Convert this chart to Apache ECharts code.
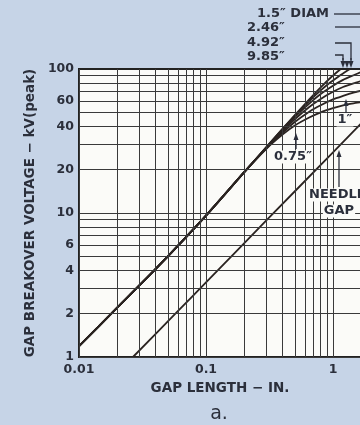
<!DOCTYPE html>
<html>
<head>
<meta charset="utf-8">
<script src="https://cdn.jsdelivr.net/npm/echarts@6/dist/echarts.min.js"></script>
<style>
  html, body { margin: 0; padding: 0; background: #c6d4e7; }
  #chart { width: 360px; height: 425px; }
</style>
</head>
<body>
<div id="chart"></div>
<script>
// Gap breakover voltage (kV peak) against gap length (inches),
// sphere gaps of several diameters plus a needle gap, log-log.

// Common part of all sphere-gap curves (small gaps)
const sharedGap = [0.01, 0.02, 0.04, 0.1, 0.2];
const sharedKV  = [1.19, 2.2, 4.07, 9.6, 19.2];

// Where each sphere diameter bends away from the common line
const gap985 = [0.3, 0.4, 0.5, 0.65, 0.8, 0.97, 1.15];
const kv985  = [28.8, 38.4, 47.8, 61.5, 74.5, 88, 100];
const gap492 = [0.3, 0.4, 0.5, 0.65, 0.8, 0.95, 1.1, 1.23, 1.36];
const kv492  = [28.8, 38.3, 47.2, 59.8, 71, 80.5, 88.5, 94.5, 100];
const gap246 = [0.3, 0.4, 0.5, 0.65, 0.8, 1.0, 1.2, 1.45, 1.7];
const kv246  = [28.6, 37.8, 46.3, 57.5, 67, 76.5, 84, 90.5, 96];
const gap150 = [0.3, 0.4, 0.5, 0.65, 0.8, 1.0, 1.2, 1.45, 1.7];
const kv150  = [28.4, 37, 44.8, 54.5, 62, 69.5, 75, 79.5, 83];
const gap100 = [0.3, 0.4, 0.5, 0.65, 0.8, 1.0, 1.2, 1.45, 1.7];
const kv100  = [28.2, 36, 42.8, 50.5, 56, 61.5, 65, 68.5, 71];
const gap075 = [0.3, 0.4, 0.5, 0.65, 0.8, 1.0, 1.2, 1.45, 1.7];
const kv075  = [28, 35, 40.5, 46, 50, 53.5, 56, 57.8, 59];

// Needle gap
const needleGap = [0.0266, 0.06, 0.1, 0.3, 1, 1.5, 2];
const needleKV  = [1, 2.08, 3.3, 8.91, 26.4, 38.1, 49.4];

// Axis labels
const yTickLabels = [1, 2, 4, 6, 10, 20, 40, 60, 100];
const xTickLabels = [0.01, 0.1, 1];

// Log-paper rulings: 1..9 in every decade
const xDecades = [0.01, 0.1, 1];
const yDecades = [1, 10];
const xRulings = [];
xDecades.forEach(d => { for (let m = 1; m <= 9; m++) xRulings.push(+(m * d).toPrecision(3)); });
const yRulings = [];
yDecades.forEach(d => { for (let m = 1; m <= 9; m++) yRulings.push(+(m * d).toPrecision(3)); });

const INK = '#2b2f3b';
const CURVE = '#2a2320';

function pairs(xs, ys) { return xs.map((x, i) => [x, ys[i]]); }
function sphere(gaps, kvs) { return pairs(sharedGap, sharedKV).concat(pairs(gaps, kvs)); }

function curveSeries(name, data) {
  return {
    name, type: 'line', data, showSymbol: false, symbol: 'none',
    smooth: 0.2, z: 4, silent: true,
    lineStyle: { color: CURVE, width: 1.8 }
  };
}

const chart = echarts.init(document.getElementById('chart'), null, { renderer: 'canvas' });

function arrowUp(x, yTip, yTail) {
  return [
    { type: 'line', shape: { x1: x, y1: yTail, x2: x, y2: yTip + 4 }, style: { stroke: INK, lineWidth: 1.3 }, z: 20 },
    { type: 'polygon', shape: { points: [[x, yTip], [x - 2.5, yTip + 7], [x + 2.5, yTip + 7]] }, style: { fill: INK }, z: 20 }
  ];
}
function arrowDown(x, yTip, yTail) {
  return [
    { type: 'line', shape: { x1: x, y1: yTail, x2: x, y2: yTip - 4 }, style: { stroke: INK, lineWidth: 1.3 }, z: 20 },
    { type: 'polygon', shape: { points: [[x, yTip], [x - 2.5, yTip - 7], [x + 2.5, yTip - 7]] }, style: { fill: INK }, z: 20 }
  ];
}
function label(text, x, y, align, font, bg) {
  return {
    type: 'text', x, y, z: 21,
    style: {
      text, font: font || 'bold 13px "DejaVu Sans", sans-serif', fill: INK,
      align: align || 'left', textAlign: align || 'left',
      verticalAlign: 'middle', textVerticalAlign: 'middle',
      backgroundColor: bg || 'transparent', padding: bg ? [0, 1] : 0
    }
  };
}

const graphics = [
  label('1.5″ DIAM', 257, 14),
  label('2.46″', 247, 28),
  label('4.92″', 247, 43),
  label('9.85″', 247, 57),
  { type: 'line', shape: { x1: 334, y1: 14, x2: 360, y2: 14 }, style: { stroke: INK, lineWidth: 1.3 } },
  { type: 'line', shape: { x1: 335, y1: 27, x2: 360, y2: 27 }, style: { stroke: INK, lineWidth: 1.3 } },
  { type: 'polyline', shape: { points: [[335, 43], [351, 43], [351, 60]] }, style: { stroke: INK, lineWidth: 1.3, fill: null } },
  { type: 'polyline', shape: { points: [[335, 55], [343, 55], [343, 60]] }, style: { stroke: INK, lineWidth: 1.3, fill: null } },
  ...arrowDown(351, 68, 58),
  ...arrowDown(343, 68, 58),
  ...arrowDown(347, 68, 62),
  ...arrowUp(296, 133, 149),
  label('0.75″', 293, 157, 'center', null, '#fbfbf8'),
  ...arrowUp(346, 99, 113),
  label('1″', 345, 120, 'center', null, '#fbfbf8'),
  ...arrowUp(339, 150, 187),
  label('NEEDLE', 308, 195, 'left', null, '#fbfbf8'),
  label('GAP', 339, 211, 'center', null, '#fbfbf8'),
  label('GAP LENGTH − IN.', 220, 388, 'center', 'bold 13.5px "DejaVu Sans", sans-serif'),
  label('a.', 219, 414, 'center', '19px "DejaVu Sans", sans-serif')
];

chart.setOption({
  animation: false,
  backgroundColor: '#c6d4e7',
  grid: {
    left: 79, top: 69, width: 381, height: 288,
    outerBoundsMode: 'none', containLabel: false,
    show: true, backgroundColor: '#fbfbf8', borderColor: '#222', borderWidth: 2
  },
  xAxis: {
    type: 'log', logBase: 10, min: 0.01, max: 10,
    axisLine: { show: true, lineStyle: { color: '#222', width: 2 } },
    axisTick: { show: false },
    splitLine: { show: false },
    axisLabel: {
      customValues: xTickLabels, margin: 6,
      color: INK, fontFamily: '"DejaVu Sans", sans-serif', fontWeight: 'bold', fontSize: 12.5,
      formatter: v => String(v)
    }
  },
  yAxis: {
    type: 'log', logBase: 10, min: 1, max: 100,
    name: 'GAP BREAKOVER VOLTAGE − kV(peak)',
    nameLocation: 'middle', nameGap: 32, nameRotate: 90,
    nameTextStyle: { color: INK, fontFamily: '"DejaVu Sans", sans-serif', fontWeight: 'bold', fontSize: 13.5 },
    axisLine: { show: true, lineStyle: { color: '#222', width: 2 } },
    axisTick: { show: false },
    splitLine: { show: false },
    axisLabel: {
      customValues: yTickLabels, margin: 5,
      color: INK, fontFamily: '"DejaVu Sans", sans-serif', fontWeight: 'bold', fontSize: 12.5,
      formatter: v => String(v)
    }
  },
  series: [
    {
      name: 'rulings', type: 'line', data: [[0.01, 1]], showSymbol: false, symbol: 'none',
      lineStyle: { opacity: 0 }, silent: true, z: 1,
      markLine: {
        silent: true, symbol: ['none', 'none'], animation: false,
        label: { show: false }, emphasis: { disabled: true },
        lineStyle: { color: '#3a3a3a', width: 1, type: 'solid' },
        data: xRulings.map(v => ({ xAxis: v })).concat(yRulings.map(v => ({ yAxis: v })))
      }
    },
    curveSeries('9.85″', sphere(gap985, kv985)),
    curveSeries('4.92″', sphere(gap492, kv492)),
    curveSeries('2.46″', sphere(gap246, kv246)),
    curveSeries('1.5″', sphere(gap150, kv150)),
    curveSeries('1″', sphere(gap100, kv100)),
    curveSeries('0.75″', sphere(gap075, kv075)),
    curveSeries('NEEDLE GAP', pairs(needleGap, needleKV))
  ],
  graphic: graphics
});
</script>
</body>
</html>
